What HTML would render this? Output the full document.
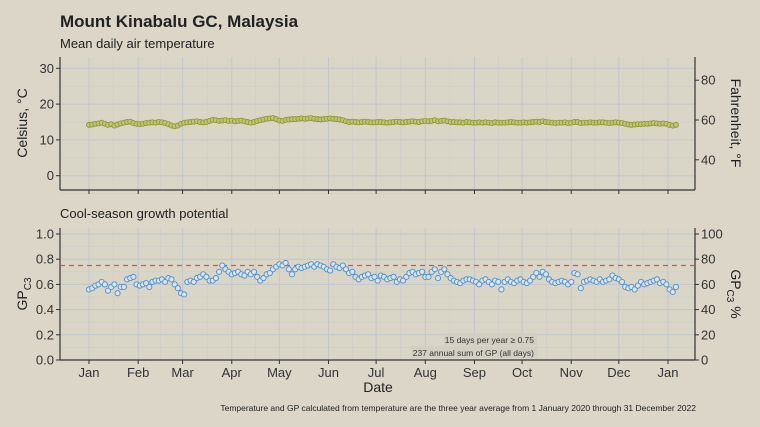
<!DOCTYPE html>
<html><head><meta charset="utf-8"><style>
body{margin:0;background:#dbd6c8;}
svg{display:block;font-family:"Liberation Sans",sans-serif;}
</style></head><body>
<svg id="chart" width="760" height="427" viewBox="0 0 760 427">
<rect width="760" height="427" fill="#dbd6c8"/>
<text x="60" y="27" font-size="17" font-weight="bold" fill="#222">Mount Kinabalu GC, Malaysia</text>
<text x="60" y="48" font-size="13" fill="#222">Mean daily air temperature</text>
<text x="60" y="218" font-size="13" fill="#222">Cool-season growth potential</text>
<g id="top"></g>
<g id="bot"></g>
<text x="378" y="392" font-size="14" text-anchor="middle" fill="#222">Date</text>
<text x="696" y="411" font-size="8.5" text-anchor="end" fill="#222">Temperature and GP calculated from temperature are the three year average from 1 January 2020 through 31 December 2022</text>
</svg>
<script>
const months=["Jan","Feb","Mar","Apr","May","Jun","Jul","Aug","Sep","Oct","Nov","Dec","Jan"];
const monthDays=[0,31,59,90,120,151,181,212,243,273,304,334,365];
const celsiusTicks=[0,10,20,30];
const fahrenheitTicks=[40,60,80];
const gpTicks=[0,0.2,0.4,0.6,0.8,1.0];
const gpPctTicks=[0,20,40,60,80,100];
const gpThreshold=0.75;
const gpValues=[0.56,0.57,0.59,0.60,0.62,0.60,0.55,0.58,0.60,0.53,0.58,0.58,0.64,0.65,0.66,0.60,
0.59,0.60,0.61,0.58,0.62,0.63,0.63,0.64,0.62,0.65,0.64,0.60,0.57,0.53,0.52,
0.62,0.63,0.62,0.65,0.66,0.68,0.66,0.63,0.63,0.65,0.70,0.75,0.72,0.70,0.68,
0.69,0.70,0.68,0.67,0.70,0.68,0.70,0.66,0.63,0.65,0.68,0.69,0.72,0.74,0.76,
0.75,0.77,0.72,0.68,0.72,0.74,0.73,0.74,0.75,0.76,0.74,0.76,0.75,0.74,0.72,0.71,
0.76,0.74,0.73,0.75,0.72,0.69,0.70,0.66,0.64,0.66,0.67,0.68,0.65,0.66,0.63,
0.67,0.66,0.64,0.65,0.66,0.62,0.64,0.63,0.66,0.69,0.70,0.68,0.69,0.70,0.66,0.66,
0.70,0.72,0.65,0.70,0.72,0.68,0.65,0.63,0.62,0.61,0.63,0.64,0.64,0.63,0.62,0.60,
0.63,0.64,0.62,0.60,0.63,0.62,0.56,0.62,0.64,0.62,0.61,0.63,0.64,0.62,0.61,
0.63,0.66,0.69,0.66,0.70,0.68,0.64,0.62,0.61,0.62,0.63,0.62,0.60,0.62,0.69,0.68,
0.57,0.62,0.63,0.64,0.63,0.62,0.64,0.62,0.63,0.64,0.67,0.65,0.64,0.62,0.58,
0.57,0.58,0.56,0.59,0.62,0.60,0.61,0.62,0.63,0.64,0.61,0.62,0.60,0.56,0.54,0.58];
const tempValues=[14.2,14.3,14.5,14.6,14.8,14.5,14.2,14.4,14.0,14.3,14.6,14.8,15.0,15.1,14.7,14.5,
14.4,14.5,14.7,14.8,14.9,14.8,15.0,14.9,14.7,14.4,14.0,13.8,14.0,14.5,14.8,
14.9,15.0,15.1,15.2,15.0,14.9,15.0,15.3,15.6,15.5,15.3,15.4,15.5,15.3,15.4,
15.2,15.3,15.4,15.2,15.0,14.8,15.0,15.3,15.5,15.7,15.9,16.0,16.1,15.8,15.4,
15.3,15.6,15.7,15.8,15.8,15.9,16.0,15.9,16.0,16.1,15.9,15.8,15.7,15.8,15.9,16.0,
15.9,15.8,15.7,15.5,15.2,15.0,15.1,15.0,14.9,15.0,15.1,15.0,14.9,14.9,15.0,
15.0,14.9,14.8,14.9,15.0,15.1,15.0,14.9,15.0,15.1,15.2,15.1,15.0,15.2,15.3,15.2,
15.3,15.5,15.2,15.3,15.4,15.2,15.0,15.0,14.9,14.9,14.8,15.0,14.9,14.8,14.8,14.9,
14.8,14.9,14.8,14.7,14.9,14.8,14.8,14.8,14.9,15.0,14.9,14.8,14.8,14.9,14.8,
14.9,15.0,15.1,15.0,15.2,15.0,14.9,14.8,14.7,14.8,14.8,14.9,14.7,14.8,15.0,15.0,
14.7,14.8,14.8,14.9,14.8,14.8,14.9,14.9,14.8,14.7,14.8,14.9,14.8,14.7,14.5,
14.3,14.2,14.3,14.4,14.4,14.5,14.5,14.6,14.7,14.6,14.5,14.6,14.5,14.2,14.0,14.2];
const NS="http://www.w3.org/2000/svg";
const L=60,R=695;
const xDay=d=>89+d*(668-89)/365;
function el(p,t,a){const e=document.createElementNS(NS,t);for(const k in a)e.setAttribute(k,a[k]);p.appendChild(e);return e;}
function panel(g,top,bot,yMap,minorVals,majorVals){
  el(g,"rect",{x:L,y:top,width:R-L,height:bot-top,fill:"#d9d5c7"});
  minorVals.forEach(v=>el(g,"line",{x1:L,x2:R,y1:yMap(v),y2:yMap(v),stroke:"#cfcdcb","stroke-width":0.6}));
  majorVals.forEach(v=>el(g,"line",{x1:L,x2:R,y1:yMap(v),y2:yMap(v),stroke:"#c4c6cc","stroke-width":1}));
  for(let i=0;i<12;i++){const m=xDay((monthDays[i]+monthDays[i+1])/2);el(g,"line",{x1:m,x2:m,y1:top,y2:bot,stroke:"#cfcdcb","stroke-width":0.6});}
  monthDays.forEach(d=>el(g,"line",{x1:xDay(d),x2:xDay(d),y1:top,y2:bot,stroke:"#c4c6cc","stroke-width":1}));
  el(g,"line",{x1:L,x2:L,y1:top,y2:bot,stroke:"#333","stroke-width":1.2});
  el(g,"line",{x1:R,x2:R,y1:top,y2:bot,stroke:"#333","stroke-width":1.2});
  el(g,"line",{x1:L,x2:R,y1:bot,y2:bot,stroke:"#333","stroke-width":1.2});
  monthDays.forEach(d=>el(g,"line",{x1:xDay(d),x2:xDay(d),y1:bot,y2:bot+4,stroke:"#333"}));
}
const T=document.getElementById("top");
const yC=c=>175.7-c*(175.7-68.3)/30;
const yF=f=>yC((f-32)*5/9);
panel(T,57,190,yC,[-5,5,15,25],celsiusTicks);
celsiusTicks.forEach(v=>{el(T,"line",{x1:L-4,x2:L,y1:yC(v),y2:yC(v),stroke:"#333"});const t=el(T,"text",{x:L-6,y:yC(v)+4.5,"font-size":13,"text-anchor":"end",fill:"#333"});t.textContent=v;});
fahrenheitTicks.forEach(v=>{el(T,"line",{x1:R,x2:R+4,y1:yF(v),y2:yF(v),stroke:"#333"});const t=el(T,"text",{x:R+6,y:yF(v)+4.5,"font-size":13,fill:"#333"});t.textContent=v;});
let t=el(T,"text",{x:27,y:123,"font-size":14,"text-anchor":"middle",fill:"#222",transform:"rotate(-90 27 123)"});t.textContent="Celsius, °C";


t=el(T,"text",{x:731,y:123,"font-size":14,"text-anchor":"middle",fill:"#222",transform:"rotate(90 731 123)"});t.textContent="Fahrenheit, °F";


tempValues.forEach((v,i)=>{const c=el(T,"circle",{cx:xDay(i*2),cy:yC(v),r:2.5,fill:"#c2c27a",stroke:"#8c9a2c","stroke-width":0.9});

});
const B=document.getElementById("bot");
const yG=g=>360-g*(360-234)/1.0;
panel(B,228,360,yG,[0.1,0.3,0.5,0.7,0.9],gpTicks);
gpTicks.forEach(v=>{el(B,"line",{x1:L-4,x2:L,y1:yG(v),y2:yG(v),stroke:"#333"});const t=el(B,"text",{x:L-6,y:yG(v)+4.5,"font-size":13,"text-anchor":"end",fill:"#333"});t.textContent=v.toFixed(1);});
gpPctTicks.forEach(v=>{el(B,"line",{x1:R,x2:R+4,y1:yG(v/100),y2:yG(v/100),stroke:"#333"});const t=el(B,"text",{x:R+6,y:yG(v/100)+4.5,"font-size":13,fill:"#333"});t.textContent=v;});
months.forEach((m,i)=>{const t=el(B,"text",{x:xDay(monthDays[i]),y:377,"font-size":13,"text-anchor":"middle",fill:"#333"});t.textContent=m;

});
t=el(B,"text",{x:27,y:294,"font-size":14,"text-anchor":"middle",fill:"#222",transform:"rotate(-90 27 294)"});t.innerHTML='GP<tspan font-size="10" dy="4">C3</tspan>';


t=el(B,"text",{x:731,y:294,"font-size":14,"text-anchor":"middle",fill:"#222",transform:"rotate(90 731 294)"});t.innerHTML='GP<tspan font-size="10" dy="4">C3</tspan><tspan dy="-4"> %</tspan>';


const th=el(B,"line",{x1:L,x2:R,y1:yG(gpThreshold),y2:yG(gpThreshold),stroke:"#e8504c","stroke-width":1.2,"stroke-dasharray":"5,4"});


gpValues.forEach((v,i)=>{const c=el(B,"circle",{cx:xDay(i*2),cy:yG(v),r:2.6,fill:"#dde3e6",stroke:"#4a8fd4","stroke-width":0.9});

});
el(B,"rect",{x:444,y:333,width:93,height:12,fill:"#d3cfc3"});
el(B,"rect",{x:411,y:346,width:126,height:12,fill:"#d3cfc3"});
t=el(B,"text",{x:534,y:343,"font-size":8.5,"text-anchor":"end",fill:"#333"});t.textContent="15 days per year ≥ 0.75";


t=el(B,"text",{x:534,y:356,"font-size":8.5,"text-anchor":"end",fill:"#333"});t.textContent="237 annual sum of GP (all days)";


</script>
</body></html>
